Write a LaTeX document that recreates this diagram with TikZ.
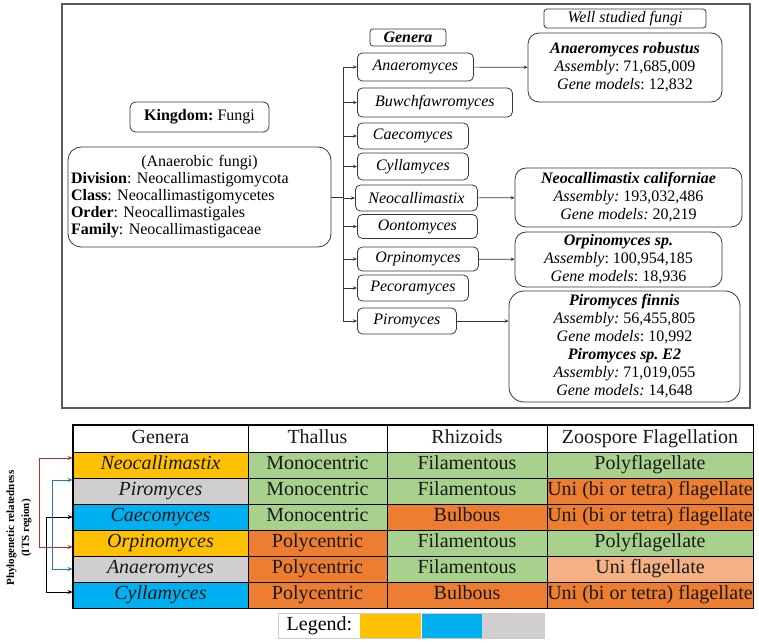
\documentclass[tikz,border=0pt]{standalone}
\usepackage{fontspec}
\setmainfont{Liberation Serif}
\usepackage{xcolor}
\usepackage{tikz}
\usetikzlibrary{calc,arrows.meta,positioning}
\frenchspacing

\definecolor{framegray}{RGB}{90,90,90}
\definecolor{boxgray}{RGB}{55,55,55}
\definecolor{cellyel}{RGB}{255,192,0}
\definecolor{cellblu}{RGB}{0,176,240}
\definecolor{cellgry}{RGB}{208,206,206}
\definecolor{cellgrn}{RGB}{169,209,142}
\definecolor{cellorg}{RGB}{237,125,49}
\definecolor{celllor}{RGB}{244,177,131}
\definecolor{arrred}{RGB}{192,45,45}
\definecolor{arrblu}{RGB}{46,117,182}

\tikzset{
	genus/.style={draw=boxgray,line width=0.8pt,rounded corners=5pt,anchor=west,inner sep=1pt,
		font=\fontsize{16}{17}\selectfont\itshape},
	fungus/.style={draw=boxgray,line width=0.8pt,rounded corners=11pt,align=center,inner sep=1pt,
		font=\fontsize{16}{18}\selectfont},
	tag/.style={draw=boxgray,line width=0.8pt,rounded corners=3pt,inner sep=0pt,
		font=\fontsize{16}{17}\selectfont},
	cell/.style={draw=black,line width=0.7pt,inner sep=0pt,minimum height=26pt,
		text height=13.5pt,text depth=4pt,
		font=\fontsize{20}{22}\selectfont,text=black!90},
	branch/.style={draw=boxgray,line width=0.7pt},
	phylo/.style={line width=0.9pt,{Stealth[length=5pt,width=4pt]}-{Stealth[length=5pt,width=4pt]}},
}

\begin{document}
\begin{tikzpicture}[x=1pt,y=-1pt,>={Stealth[length=4pt,width=3.5pt]}]
	\useasboundingbox (0,0) rectangle (759,644);
	
	\draw[framegray,line width=1.3pt] (62,4) rectangle (750,408);
	
	\node[tag,rounded corners=6pt,minimum width=139pt,minimum height=30pt] (kingdom) at (199.5,117)
	{\textbf{Kingdom:} Fungi};
	\node[draw=boxgray,line width=0.8pt,rounded corners=13pt,text width=257pt,inner sep=3pt,
	align=left,minimum height=100pt,font=\fontsize{16}{17}\selectfont] (info) at (199.5,197)
	{\makebox[257pt]{(Anaerobic fungi)}\\
		\textbf{Division}: Neocallimastigomycota\\
		\textbf{Class}: Neocallimastigomycetes\\
		\textbf{Order}: Neocallimastigales\\
		\textbf{Family}: Neocallimastigaceae};
	
	\node[tag,minimum width=76pt,minimum height=17pt] (generalabel) at (408,37.5)
	{\textbf{\textit{Genera}}};
	\node[tag,minimum width=162pt,minimum height=19pt] (welllabel) at (625,18.5)
	{\textit{Well studied fungi}};
	
	\node[genus,minimum width=116pt,minimum height=28pt] (anaero) at (357,67) {Anaeromyces};
	\node[genus,minimum width=155pt,minimum height=29pt] (buwch) at (357,102.5) {Buwchfawromyces};
	\node[genus,minimum width=111pt,minimum height=26pt] (caeco) at (357,136) {Caecomyces};
	\node[genus,minimum width=111pt,minimum height=27pt] (cylla) at (357,166.5) {Cyllamyces};
	\node[genus,minimum width=122pt,minimum height=26pt] (neocal) at (355,198) {Neocallimastix};
	\node[genus,minimum width=120pt,minimum height=24pt] (oonto) at (357,226.5) {Oontomyces};
	\node[genus,minimum width=121pt,minimum height=24pt] (orpino) at (357,259) {Orpinomyces};
	\node[genus,minimum width=111pt,minimum height=26pt] (pecora) at (357,288) {Pecoramyces};
	\node[genus,minimum width=99pt,minimum height=26pt] (piro) at (357,321) {Piromyces};
	
	\node[fungus,minimum width=194pt,minimum height=69pt] (arob) at (625,67.5)
	{\textbf{\textit{Anaeromyces robustus}}\\\textit{Assembly}: 71,685,009\\\textit{Gene models}: 12,832};
	\node[fungus,minimum width=227pt,minimum height=59pt] (ncal) at (628.5,197.5)
	{\textbf{\textit{Neocallimastix californiae}}\\\textit{Assembly:} 193,032,486\\\textit{Gene models:} 20,219};
	\node[fungus,minimum width=207pt,minimum height=55pt] (orpsp) at (618.5,259.5)
	{\textbf{\textit{Orpinomyces sp.}}\\\textit{Assembly}: 100,954,185\\\textit{Gene models}: 18,936};
	\node[fungus,rounded corners=15pt,minimum width=231pt,minimum height=111pt] (pirbox) at (624.5,346.5)
	{\textbf{\textit{Piromyces finnis}}\\\textit{Assembly:} 56,455,805\\\textit{Gene models}: 10,992\\
		\textbf{\textit{Piromyces sp. E2}}\\\textit{Assembly:} 71,019,055\\\textit{Gene models:} 14,648};
	
	\coordinate (trunk) at (343,197);
	\draw[branch] (info.east) -- (info.east -| trunk);
	\draw[branch] (trunk |- anaero.west) -- (trunk |- piro.west);
	\foreach \g in {anaero,buwch,caeco,cylla,neocal,oonto,orpino,pecora,piro}
	\draw[branch,->] (trunk |- \g.west) -- (\g.west);
	
	\draw[branch,->] (anaero) -- (arob);
	\draw[branch,->] (neocal) -- (ncal);
	\draw[branch,->] (orpino) -- (orpsp);
	\draw[branch,->] (piro.east) -- (piro.east -| pirbox.west);
	
	\node[cell,minimum width=175pt,minimum height=27pt,fill=white] (hd1) at (160.5,438.5) {Genera};
	\node[cell,minimum width=139pt,minimum height=27pt,fill=white] (hd2) at (317.5,438.5) {Thallus};
	\node[cell,minimum width=160pt,minimum height=27pt,fill=white] (hd3) at (467,438.5) {Rhizoids};
	\node[cell,minimum width=206pt,minimum height=27pt,fill=white] (hd4) at (650,438.5) {Zoospore Flagellation};
	
	\foreach \r/\gen/\gc/\tha/\tc/\rhi/\rc/\zoo/\zc in {
		1/Neocallimastix/cellyel/Monocentric/cellgrn/Filamentous/cellgrn/Polyflagellate/cellgrn,
		2/Piromyces/cellgry/Monocentric/cellgrn/Filamentous/cellgrn/Uni (bi or tetra) flagellate/cellorg,
		3/Caecomyces/cellblu/Monocentric/cellgrn/Bulbous/cellorg/Uni (bi or tetra) flagellate/cellorg,
		4/Orpinomyces/cellyel/Polycentric/cellorg/Filamentous/cellgrn/Polyflagellate/cellgrn,
		5/Anaeromyces/cellgry/Polycentric/cellorg/Filamentous/cellgrn/Uni flagellate/celllor,
		6/Cyllamyces/cellblu/Polycentric/cellorg/Bulbous/cellorg/Uni (bi or tetra) flagellate/cellorg}
	{
		\pgfmathsetmacro{\yy}{439+26*\r}
		\node[cell,minimum width=175pt,fill=\gc,font=\fontsize{20}{22}\selectfont\itshape] (gen\r) at (160.5,\yy) {\gen};
		\node[cell,minimum width=139pt,fill=\tc] (tha\r) at (317.5,\yy) {\tha};
		\node[cell,minimum width=160pt,fill=\rc] (rhi\r) at (467,\yy) {\rhi};
		\node[cell,minimum width=206pt,fill=\zc] (zoo\r) at (650,\yy) {\zoo};
	}
	\draw[line width=1.1pt] (hd1.north west) rectangle (zoo6.south east);
	
	\coordinate (redx) at (39,0);
	\coordinate (blkx) at (46,0);
	\coordinate (blux) at (52,0);
	\draw[phylo,arrred] ([yshift=7pt]gen1.west) -- ([yshift=7pt]gen1.west -| redx)
	-- ([yshift=-4pt]gen4.west -| redx) -- ([yshift=-4pt]gen4.west);
	\draw[phylo,black] (gen3.west) -- (gen3.west -| blkx)
	-- ([yshift=3pt]gen6.west -| blkx) -- ([yshift=3pt]gen6.west);
	\draw[phylo,arrblu] ([yshift=11pt]gen2.west) -- ([yshift=11pt]gen2.west -| blux)
	-- (gen5.west -| blux) -- (gen5.west);
	
	\node[rotate=90,align=center,font=\fontsize{11}{15}\selectfont\bfseries] (phylolabel) at (19,528)
	{Phylogenetic relatedness\\(ITS region)};
	
	\node[minimum width=81pt,minimum height=24pt,inner sep=0pt,fill=white,
	font=\fontsize{20}{22}\selectfont] (legend) at (319.5,626) {Legend:};
	\node[minimum width=61pt,minimum height=24pt,fill=cellyel,right=0pt of legend] (legyel) {};
	\node[minimum width=60pt,minimum height=24pt,fill=cellblu,right=0pt of legyel] (legblu) {};
	\node[minimum width=62pt,minimum height=24pt,fill=cellgry,right=0pt of legblu] (leggry) {};
	\draw[black!20,line width=0.8pt] (legend.north west) rectangle (leggry.south east);
\end{tikzpicture}
\end{document}
